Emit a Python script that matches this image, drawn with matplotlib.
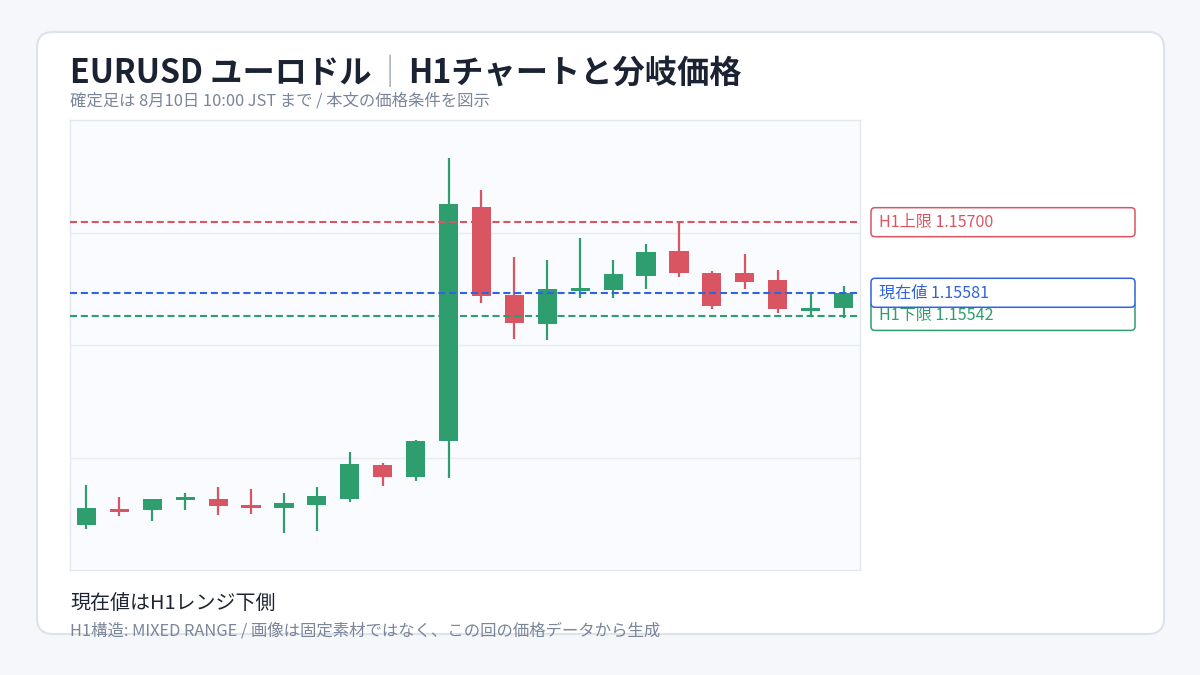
import matplotlib
matplotlib.use('Agg')
import matplotlib.pyplot as plt
from matplotlib.patches import FancyBboxPatch
from matplotlib.transforms import IdentityTransform
import numpy as np

plt.rcParams['font.family'] = ['Noto Sans CJK JP', 'DejaVu Sans']

# ---- data ----
opens  = [1.15189, 1.15217, 1.15215, 1.15231, 1.15234, 1.15224, 1.15219, 1.15224,
          1.15234, 1.15291, 1.15271, 1.15331, 1.15726, 1.15578, 1.15528, 1.15584,
          1.15585, 1.15610, 1.15652, 1.15615, 1.15615, 1.15602, 1.15550, 1.15555]
highs  = [1.15257, 1.15236, 1.15234, 1.15244, 1.15254, 1.15251, 1.15244, 1.15254,
          1.15313, 1.15294, 1.15333, 1.15809, 1.15755, 1.15642, 1.15637, 1.15673,
          1.15636, 1.15663, 1.15699, 1.15617, 1.15646, 1.15619, 1.15580, 1.15592]
lows   = [1.15183, 1.15205, 1.15197, 1.15215, 1.15207, 1.15209, 1.15177, 1.15180,
          1.15229, 1.15256, 1.15264, 1.15269, 1.15563, 1.15503, 1.15501, 1.15573,
          1.15573, 1.15587, 1.15607, 1.15553, 1.15587, 1.15547, 1.15542, 1.15538]
closes = [1.15219, 1.15212, 1.15234, 1.15236, 1.15222, 1.15219, 1.15226, 1.15239,
          1.15293, 1.15271, 1.15331, 1.15730, 1.15575, 1.15530, 1.15587, 1.15589,
          1.15612, 1.15649, 1.15614, 1.15558, 1.15599, 1.15553, 1.15555, 1.15581]

level_names  = ["H1上限", "H1下限", "現在値"]
level_values = [1.15700, 1.15542, 1.15581]

title_main = "EURUSD ユーロドル"
title_sep = "｜"
title_rest = "H1チャートと分岐価格"
subtitle = "確定足は 8月10日 10:00 JST まで / 本文の価格条件を図示"
footer_head = "現在値はH1レンジ下側"
footer_sub = "H1構造: MIXED RANGE / 画像は固定素材ではなく、この回の価格データから生成"

GREEN = '#2e9e6e'
RED = '#d95561'
BLUE = '#2f63e0'
level_colors = [RED, GREEN, BLUE]

W, H = 1200, 675
fig = plt.figure(figsize=(12, 6.75), dpi=100)
fig.patch.set_facecolor('#f5f7fa')

card = FancyBboxPatch((37, H - 634), 1127, 602,
                      boxstyle='round,pad=0,rounding_size=16',
                      transform=IdentityTransform(), facecolor='white',
                      edgecolor='#dde3eb', linewidth=1.5, zorder=0)
fig.add_artist(card)

ax = fig.add_axes([70 / W, 1 - 570 / H, 790 / W, 450 / H])
ax.set_facecolor('#f9fbfe')
for s in ax.spines.values():
    s.set_color('#e3e8ef')
    s.set_linewidth(1)

n = len(opens)
x = np.arange(n)
o = np.array(opens); c = np.array(closes)
hi = np.array(highs); lo = np.array(lows)
up = c >= o
cols = np.where(up, GREEN, RED)

ax.vlines(x, lo, hi, colors=cols, linewidth=1.6, zorder=3)
ax.bar(x, np.abs(c - o), bottom=np.minimum(o, c), width=0.58, color=cols, zorder=3)

rng = hi.max() - lo.min()
ymin = lo.min() - 0.1 * rng
ymax = hi.max() + 0.1 * rng
ax.set_ylim(ymin, ymax)
ax.set_xlim(-0.5, n - 0.5)
ax.set_yticks(np.linspace(ymin, ymax, 5)[1:-1])
ax.set_xticks([])
ax.tick_params(left=False, labelleft=False)
ax.grid(axis='y', color='#e9edf2', linewidth=1)
ax.set_axisbelow(True)

for val, col in zip(level_values, level_colors):
    ln = ax.axhline(val, color=col, linewidth=1.5, zorder=4)
    ln.set_dashes((3.4, 1.8))

# labels at right
for i in range(len(level_values)):
    val = level_values[i]; col = level_colors[i]
    ypix = ax.transData.transform((0, val))[1]
    box = FancyBboxPatch((871, ypix - 14.5), 264, 29,
                         boxstyle='round,pad=0,rounding_size=4',
                         transform=IdentityTransform(), facecolor='white',
                         edgecolor=col, linewidth=1.1, zorder=5 + i)
    fig.add_artist(box)
    fig.text(879 / W, ypix / H, f"{level_names[i]} {val:.5f}", color=col,
             fontsize=11.6, va='center', ha='left', zorder=5 + i)

# title
fig.canvas.draw()
r = fig.canvas.get_renderer()
tx = 70
ty = 1 - 83 / H
t1 = fig.text(tx / W, ty, title_main, fontsize=23.2, fontweight='bold',
              color='#1b2333', va='baseline')
bb = t1.get_window_extent(r)
t2 = fig.text((bb.x1 + 2) / W, ty, title_sep, fontsize=23.2,
              color='#9aa3b1', va='baseline')
bb2 = t2.get_window_extent(r)
fig.text((bb2.x1 + 2) / W, ty, title_rest, fontsize=23.2,
         fontweight='bold', color='#1b2333', va='baseline')

fig.text(70 / W, 1 - 106 / H, subtitle, fontsize=11.8, color='#7a8599',
         va='baseline')
fig.text(70 / W, 1 - 609 / H, footer_head, fontsize=14.4, color='#1f2633',
         va='baseline')
fs = fig.text(70 / W, 1 - 636 / H, footer_sub, fontsize=11.8, color='#7a8599',
              va='baseline')
fs.set_clip_path(card)

fig.savefig('out.png', dpi=100, facecolor=fig.get_facecolor())
